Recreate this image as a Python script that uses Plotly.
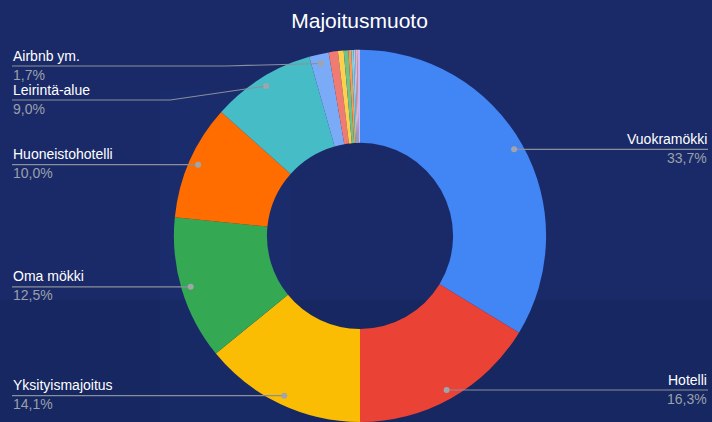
import math
import plotly.graph_objects as go

# ---- data ----
categories = ["Vuokramökki", "Hotelli", "Yksityismajoitus", "Oma mökki",
              "Huoneistohotelli", "Leirintä-alue", "Airbnb ym.",
              "Laiva", "Matkailuauto", "Sukulaiset", "Retkeilymaja",
              "Kylpylä", "Venesatama", "Muu", "Ei tietoa"]
shares = [33.7, 16.3, 14.1, 12.5, 10.0, 9.0, 1.7,
          0.8, 0.5, 0.4, 0.25, 0.2, 0.15, 0.15, 0.25]
pct_labels = ["33,7%", "16,3%", "14,1%", "12,5%", "10,0%", "9,0%", "1,7%"]
colors = ["#4285F4", "#EA4335", "#FBBC04", "#34A853", "#FF6D01", "#46BDC6",
          "#7BAAF7", "#F07B72", "#FCD04F", "#71C287", "#FF994D", "#7ED1D7",
          "#A8C7FA", "#F6AEA9", "#C9B8F0"]
n_labeled = len(pct_labels)

W, H = 712, 422
dom_y = (0.0, 0.882)
diam = (dom_y[1] - dom_y[0]) * H
R = diam / 2
cx = W / 2 + 4
cy = H - (dom_y[0] + dom_y[1]) / 2 * H

fig = go.Figure()

# subtle background bands
bg_bands = [(0, 0, 712, 422, "#1a2a69"), (0, 300, 712, 422, "rgba(18,34,84,0.35)"),
            (160, 90, 290, 422, "rgba(30,50,120,0.25)")]
for x0, y0, x1, y1, c in bg_bands:
    fig.add_shape(type="rect", x0=x0, y0=y0, x1=x1, y1=y1, xref="x", yref="y",
                  fillcolor=c, line_width=0, layer="below")

fig.add_trace(go.Pie(
    labels=categories, values=shares, sort=False, direction="clockwise",
    rotation=0, hole=0.5, textinfo="none", hoverinfo="label+percent",
    marker=dict(colors=colors, line=dict(width=0)),
    domain=dict(x=[2 * (cx / W) - 1, 1.0], y=list(dom_y)), showlegend=False))

# ---- label geometry computed from the data ----
total = sum(shares)
cum = 0
dots = []
for i, v in enumerate(shares):
    mid = (cum + v / 2) / total * 2 * math.pi
    cum += v
    if i < n_labeled:
        r = 0.95 * R
        dots.append((cx + r * math.sin(mid), cy - r * math.cos(mid)))

line_col = "#8a8f9c"
name_font = dict(family="Liberation Sans, Arial", size=14, color="#ffffff")
pct_font = dict(family="Liberation Sans, Arial", size=14, color="#9aa0aa")

left = sorted([i for i in range(n_labeled) if dots[i][0] < cx], key=lambda i: dots[i][1])
right = [i for i in range(n_labeled) if dots[i][0] >= cx]
line_y = {}
prev = None
for i in left:
    y = dots[i][1]
    y = max(y, 66)
    if prev is not None:
        y = max(y, prev + 34)
    line_y[i] = y
    prev = y
for i in right:
    line_y[i] = dots[i][1]

for i in range(n_labeled):
    dx, dy = dots[i]
    ly = line_y[i]
    is_left = dx < cx
    xe = 12 if is_left else W - 4
    xt = 10.5 if is_left else W - 3
    if abs(ly - dy) > 1:
        ex = dx - 96 if is_left else dx + 96
        pts = [(dx, dy), (ex, ly), (xe, ly)]
    else:
        pts = [(dx, dy), (xe, ly)]
    path = "M " + " L ".join(f"{x:.1f},{y:.1f}" for x, y in pts)
    fig.add_shape(type="path", path=path, xref="x", yref="y",
                  line=dict(color=line_col, width=1.2))
    fig.add_shape(type="circle", x0=dx - 3, x1=dx + 3, y0=dy - 3, y1=dy + 3,
                  xref="x", yref="y", fillcolor="#a0a4ab", line_width=0)
    anchor = "left" if is_left else "right"
    fig.add_annotation(x=xt, y=ly - 0.5, text=categories[i], showarrow=False,
                       xanchor=anchor, yanchor="bottom", font=name_font,
                       xref="x", yref="y")
    fig.add_annotation(x=xt, y=ly - 1.5, text=pct_labels[i], showarrow=False,
                       xanchor=anchor, yanchor="top", font=pct_font,
                       xref="x", yref="y")

fig.update_layout(
    width=W, height=H, margin=dict(l=0, r=0, t=0, b=0),
    paper_bgcolor="#1a2a69", plot_bgcolor="rgba(0,0,0,0)",
    title=dict(text="Majoitusmuoto", x=0.505, xanchor="center", y=0.95,
               yanchor="middle",
               font=dict(family="Liberation Sans, Arial", size=21, color="#ffffff")),
    xaxis=dict(range=[0, W], visible=False, fixedrange=True),
    yaxis=dict(range=[H, 0], visible=False, fixedrange=True),
)
fig.write_html("out.html", config={"displayModeBar": False},
               post_script="document.body.style.margin='0';document.body.style.overflow='hidden';")
